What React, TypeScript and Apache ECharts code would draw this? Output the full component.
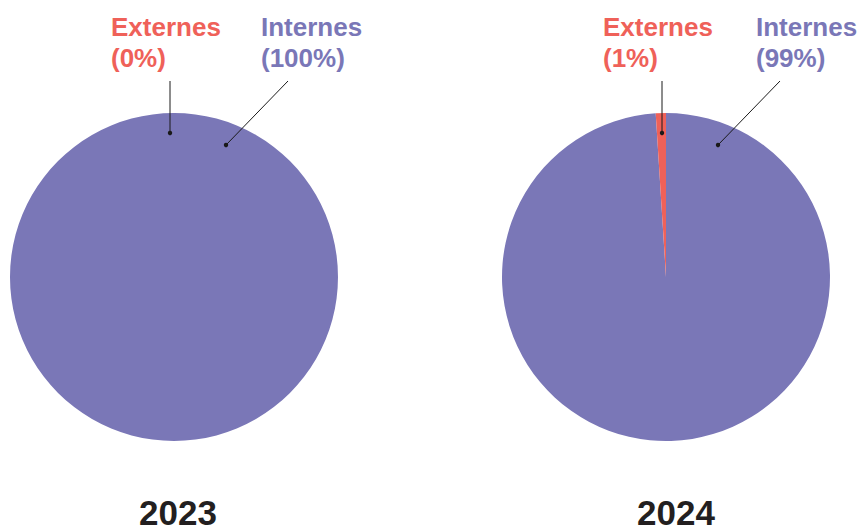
import React, { useEffect, useRef } from "react";
import * as echarts from "echarts";

const years = ["2023", "2024"];
const categories = ["Internes", "Externes"];
const internesValues = [100, 99];
const externesValues = [0, 1];
const colors = { Internes: "#7A77B7", Externes: "#EF6159" };

const W = 862;
const H = 531;
const centersX = [174, 666];
const centerY = 277;
const radius = 164;
const yearOffsetX = [4, 10];
const FONT = "'Liberation Sans', Arial, sans-serif";

export default function App() {
  const ref = useRef<HTMLDivElement>(null);
  useEffect(() => {
    if (!ref.current) return;
    const chart = echarts.init(ref.current, null, { renderer: "svg", width: W, height: H });

    const series: any[] = years.map((year, i) => ({
      type: "pie",
      name: year,
      center: [centersX[i], centerY],
      radius: radius,
      startAngle: 90,
      clockwise: true,
      silent: true,
      label: { show: false },
      labelLine: { show: false },
      itemStyle: { borderWidth: 0 },
      emphasis: { disabled: true },
      data: [
        { name: categories[0], value: internesValues[i], itemStyle: { color: colors.Internes } },
        { name: categories[1], value: externesValues[i], itemStyle: { color: colors.Externes } },
      ],
    }));

    const graphic: any[] = [];
    years.forEach((year, i) => {
      const cx = centersX[i];
      const ann = [
        {
          name: categories[1],
          value: externesValues[i],
          color: colors.Externes,
          dot: [cx - 4, centerY - 144],
          top: [cx - 4, centerY - 196],
          textX: cx - 63,
        },
        {
          name: categories[0],
          value: internesValues[i],
          color: colors.Internes,
          dot: [cx + 52, centerY - 132],
          top: [cx + 114, centerY - 196],
          textX: cx + 87 + (i === 1 ? 3 : 0),
        },
      ];
      ann.forEach((a) => {
        graphic.push({
          type: "line",
          silent: true,
          shape: { x1: a.top[0], y1: a.top[1], x2: a.dot[0], y2: a.dot[1] },
          style: { stroke: "#1a1a1a", lineWidth: 1 },
          z: 10,
        });
        graphic.push({
          type: "circle",
          silent: true,
          shape: { cx: a.dot[0], cy: a.dot[1], r: 2.2 },
          style: { fill: "#1a1a1a" },
          z: 11,
        });
        const lines = [a.name, `(${a.value}%)`];
        lines.forEach((t, li) => {
          graphic.push({
            type: "text",
            silent: true,
            x: a.textX,
            y: 27 + li * 31,
            style: {
              text: t,
              fill: a.color,
              font: `bold 26px ${FONT}`,
              lineHeight: 29,
              textAlign: "left",
              textVerticalAlign: "middle",
            },
            z: 10,
          });
        });
      });
      graphic.push({
        type: "text",
        silent: true,
        x: cx + yearOffsetX[i],
        y: 512,
        style: {
          text: year,
          fill: "#231F20",
          font: `bold 35px ${FONT}`,
          lineHeight: 30,
          textAlign: "center",
          textVerticalAlign: "middle",
        },
        z: 10,
      });
    });

    chart.setOption({
      animation: false,
      backgroundColor: "#ffffff",
      series,
      graphic,
    });
    return () => chart.dispose();
  }, []);

  return (
    <div
      ref={ref}
      style={{ position: "fixed", left: 0, top: 0, width: W, height: H, background: "#fff" }}
    />
  );
}
